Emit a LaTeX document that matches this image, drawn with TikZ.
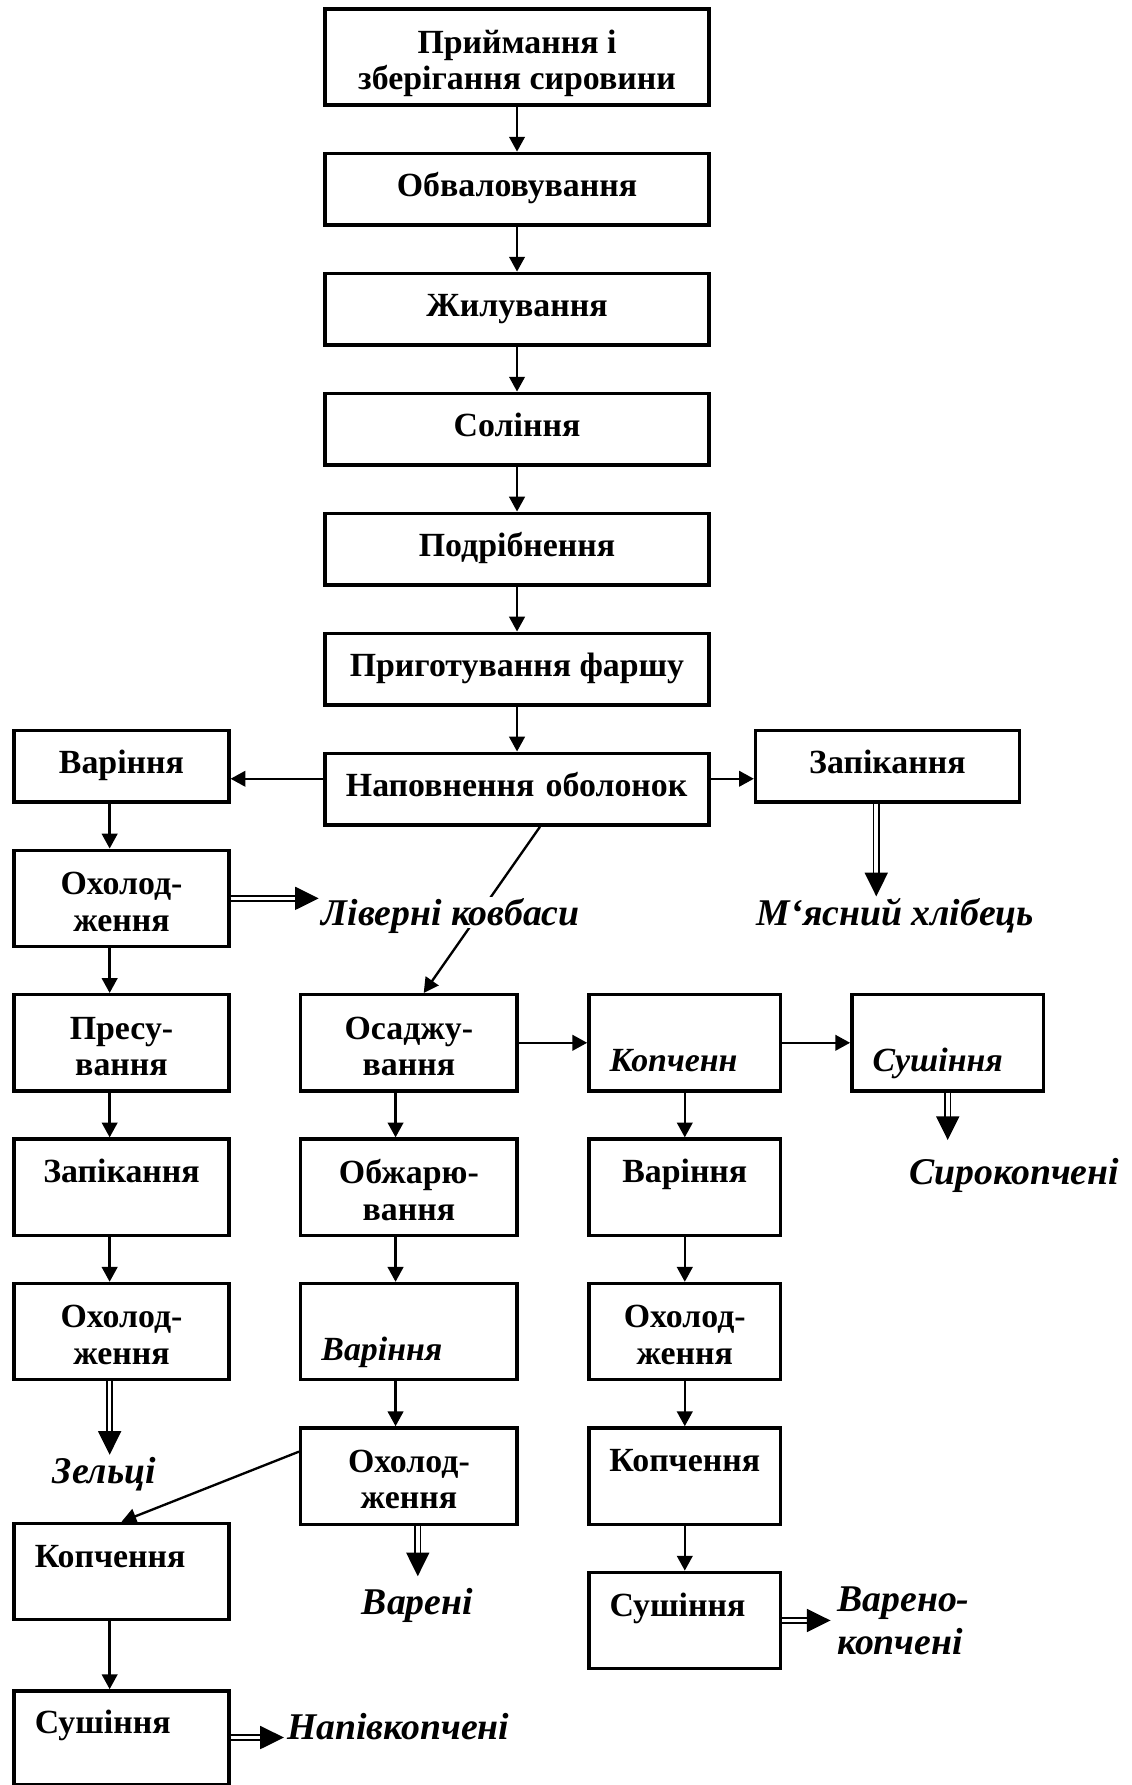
\documentclass[tikz,border=0pt]{standalone}
\usepackage{fontspec}
\setmainfont{Liberation Serif}
\usetikzlibrary{positioning, arrows.meta}
\tikzstyle{block} = [rectangle, draw=black, line width=1.3pt, minimum height=0.97cm, font=\bfseries\fontsize{13}{14}\selectfont]
\tikzstyle{process} = [block, text height=9pt, text depth=3.5pt]
\tikzstyle{twoline} = [block, align=center, text height=25.2pt, text depth=0pt]
\tikzstyle{tall} = [minimum height=1.3cm]
\tikzstyle{textlow} = [text height=25.9pt]
\tikzstyle{texthigh} = [text depth=12.3pt]
\tikzstyle{indent} = [align=left, inner xsep=0.28cm]
\tikzstyle{ital} = [font=\bfseries\itshape\fontsize{13}{14}\selectfont]
\tikzstyle{mainbox} = [minimum width=5.18cm]
\tikzstyle{leftbox} = [minimum width=2.9cm]
\tikzstyle{midbox} = [minimum width=2.92cm]
\tikzstyle{narrowbox} = [minimum width=2.59cm]
\tikzstyle{outlabel} = [font=\bfseries\itshape\fontsize{14.5}{16.5}\selectfont, inner sep=1pt]
\tikzstyle{product} = [outlabel, text height=10pt, text depth=3.6pt]
\tikzstyle{arrow} = [line width=0.9pt, -{Triangle[length=0.2cm, width=0.21cm]}]
\tikzstyle{output} = [double, double distance=1.4pt, line width=0.7pt, -{Triangle[length=0.32cm, width=0.31cm]}]

\begin{document}
\begin{tikzpicture}[node distance=0.604cm and 0.924cm]
\useasboundingbox (0,0) rectangle (15.282,-24.0975);

% Main line
\node (recv) [twoline, mainbox, tall] at (6.98,-0.77) {Приймання і\\зберігання сировини};
\node (deb) [process, mainbox, below=of recv] {Обваловування};
\node (trim) [process, mainbox, below=of deb] {Жилування};
\node (salt) [process, mainbox, below=of trim] {Соління};
\node (grind) [process, mainbox, below=of salt] {Подрібнення};
\node (mince) [process, mainbox, below=of grind] {Приготування фаршу};
\node (fill) [process, indent, text width=4.62cm, below=of mince] {Наповнення оболонок};

% Liver sausages and brawn
\node (boil1) [process, leftbox, left=1.254cm of fill, yshift=0.31cm] {Варіння};
\node (cool1) [twoline, leftbox, tall, below=of boil1] {Охолод-\\ження};
\node (press) [twoline, leftbox, tall, below=of cool1] {Пресу-\\вання};
\node (bake1) [process, texthigh, leftbox, tall, below=of press] {Запікання};
\node (cool2) [twoline, leftbox, tall, below=of bake1] {Охолод-\\ження};

% Semi-smoked
\node (smoke1) [process, texthigh, indent, text width=2.34cm, tall, below=1.894cm of cool2] {Копчення};
\node (dry1) [process, texthigh, indent, text width=2.34cm, minimum height=1.26cm, below=0.914cm of smoke1] {Сушіння};

% Meat loaf
\node (bake2) [process, minimum width=3.56cm, right=0.584cm of fill, yshift=0.31cm] {Запікання};

% Cooked sausages
\node (settle) [twoline, midbox, tall, right=of press] {Осаджу-\\вання};
\node (roast) [twoline, midbox, tall, below=of settle] {Обжарю-\\вання};
\node (boil2) [process, ital, textlow, indent, text width=2.36cm, tall, below=of roast] {Варіння};
\node (cool3) [twoline, midbox, tall, below=of boil2] {Охолод-\\ження};

% Cooked-smoked and raw-smoked
\node (smoke2) [process, ital, textlow, indent, text width=2.03cm, tall, right=of settle] {Копченн};
\node (dry3) [process, ital, textlow, indent, text width=2.03cm, tall, right=0.914cm of smoke2] {Сушіння};
\node (boil3) [process, texthigh, narrowbox, tall, below=of smoke2] {Варіння};
\node (cool4) [twoline, narrowbox, tall, below=of boil3] {Охолод-\\ження};
\node (smoke3) [process, texthigh, narrowbox, tall, below=of cool4] {Копчення};
\node (dry2) [process, texthigh, indent, text width=2.03cm, tall, below=of smoke3] {Сушіння};

% Main line arrows
\draw [arrow] (recv) -- (deb);
\draw [arrow] (deb) -- (trim);
\draw [arrow] (trim) -- (salt);
\draw [arrow] (salt) -- (grind);
\draw [arrow] (grind) -- (mince);
\draw [arrow] (mince) -- (fill);
\draw [arrow] ([yshift=0.14cm]fill.west) -- ([yshift=0.14cm]fill.west -| boil1.east);
\draw [arrow] ([yshift=0.14cm]fill.east) -- ([yshift=0.14cm]fill.east -| bake2.west);
\draw [arrow] ([xshift=0.31cm]fill.south) -- ([xshift=0.2cm]settle.north);

% Products
\node (liver) [product, fill=white, text depth=0pt, right=1.19cm of cool1, yshift=-0.19cm] {Ліверні ковбаси};
\node (loaf) [product, below=1.25cm of bake2, xshift=0.11cm] {М‘ясний хлібець};
\node (raw) [product, below=0.84cm of dry3, xshift=0.9cm] {Сирокопчені};
\node (brawn) [product, below=0.99cm of cool2, xshift=-0.23cm] {Зельці};
\node (boiled) [product, below=0.8cm of cool3, xshift=0.115cm] {Варені};
\node (cooksmoked) [outlabel, align=left, right=0.7cm of dry2] {Варено-\\копчені};
\node (semi) [product, right=0.72cm of dry1, yshift=0.09cm] {Напівкопчені};

% Left column
\draw [arrow] ([xshift=-0.16cm]boil1.south) -- ([xshift=-0.16cm]boil1.south |- cool1.north);
\draw [arrow] ([xshift=-0.16cm]cool1.south) -- ([xshift=-0.16cm]cool1.south |- press.north);
\draw [arrow] ([xshift=-0.16cm]press.south) -- ([xshift=-0.16cm]press.south |- bake1.north);
\draw [arrow] ([xshift=-0.16cm]bake1.south) -- ([xshift=-0.16cm]bake1.south |- cool2.north);
\draw [arrow] ([xshift=-0.16cm]smoke1.south) -- ([xshift=-0.16cm]smoke1.south |- dry1.north);

% Middle column
\draw [arrow] ([xshift=-0.18cm]settle.south) -- ([xshift=-0.18cm]settle.south |- roast.north);
\draw [arrow] ([xshift=-0.18cm]roast.south) -- ([xshift=-0.18cm]roast.south |- boil2.north);
\draw [arrow] ([xshift=-0.18cm]boil2.south) -- ([xshift=-0.18cm]boil2.south |- cool3.north);
\draw [arrow] ([yshift=0.33cm]cool3.west) -- (smoke1.north);
\draw [arrow] (settle) -- (smoke2);
\draw [arrow] (smoke2) -- (dry3);

% Right column
\draw [arrow] (smoke2) -- (boil3);
\draw [arrow] (boil3) -- (cool4);
\draw [arrow] (cool4) -- (smoke3);
\draw [arrow] (smoke3) -- (dry2);

% Outputs
\draw [output] (cool1.east) -- (cool1.east -| liver.west);
\draw [output] ([xshift=-0.15cm]bake2.south) -- ([xshift=-0.15cm]bake2.south |- loaf.north);
\draw [output, shorten >=0.2cm] (dry3.south) -- (dry3.south |- raw.north);
\draw [output] ([xshift=-0.16cm]cool2.south) -- ([xshift=-0.16cm]cool2.south |- brawn.north);
\draw [output, shorten >=0.12cm] ([xshift=0.12cm]cool3.south) -- ([xshift=0.12cm]cool3.south |- boiled.north);
\draw [output, shorten >=0.05cm] (dry2.east) -- (dry2.east -| cooksmoked.west);
\draw [output] (dry1.east) -- (dry1.east -| semi.west);

\end{tikzpicture}
\end{document}
